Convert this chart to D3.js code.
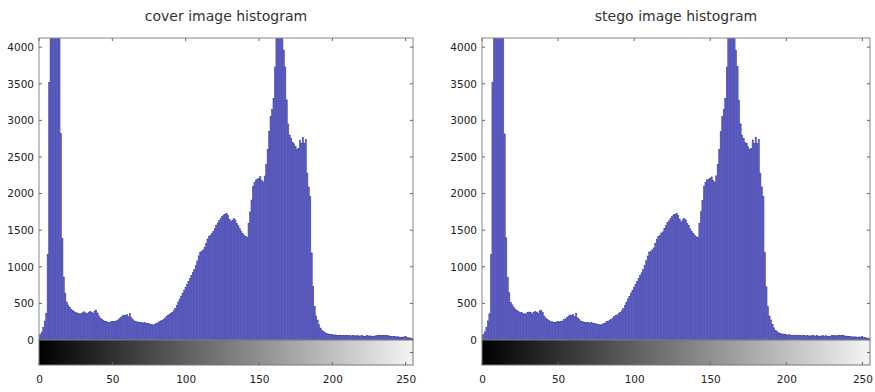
<!DOCTYPE html>
<html>
<head>
<meta charset="utf-8">
<script src="https://cdn.jsdelivr.net/npm/d3@7"></script>
<style>
  body { margin: 0; background: #fff; }
  text { font-family: "DejaVu Sans", sans-serif; fill: #222; }
</style>
</head>
<body>
<div id="chart"></div>
<script>
// gray levels 0..255
const levels = d3.range(256);

const titles = ['cover image histogram', 'stego image histogram'];
const yTicks = [0, 500, 1000, 1500, 2000, 2500, 3000, 3500, 4000];
const xTicks = [0, 50, 100, 150, 200, 250];

// pixel counts per gray level
const coverCounts = [
  60, 80, 110, 170, 260, 360, 1170, 3520, 4300, 5200, 6100, 6400, 5900, 5100, 4600, 2820,
  1390, 860, 640, 520, 478, 450, 420, 405, 390, 375, 370, 362, 355, 360, 372, 385,
  370, 360, 375, 388, 380, 365, 395, 410, 370, 330, 300, 285, 270, 255, 250, 245,
  240, 248, 252, 250, 255, 262, 275, 290, 310, 330, 340, 335, 345, 320, 365, 305,
  280, 262, 250, 248, 240, 245, 238, 232, 240, 230, 225, 222, 215, 210, 205, 212,
  225, 232, 248, 260, 270, 280, 300, 320, 335, 345, 362, 380, 400, 430, 470, 520,
  560, 600, 640, 680, 720, 760, 800, 840, 880, 920, 960, 1020, 1080, 1150, 1200, 1210,
  1230, 1260, 1320, 1380, 1410, 1430, 1460, 1480, 1520, 1570, 1600, 1630, 1660, 1690, 1708, 1720,
  1730, 1700, 1650, 1616, 1640, 1662, 1640, 1594, 1560, 1520, 1480, 1457, 1430, 1411, 1400, 1594,
  1750, 1912, 2100, 2150, 2186, 2200, 2209, 2230, 2180, 2160, 2240, 2400, 2600, 2850, 3050, 3150,
  3300, 3730, 4600, 5300, 5600, 5100, 4400, 3960, 3730, 3280, 2950, 2800, 2750, 2700, 2680, 2640,
  2600, 2620, 2730, 2690, 2770, 2690, 2740, 2280, 2090, 1960, 1190, 728, 455, 330, 273, 210,
  164, 135, 114, 100, 91, 85, 80, 76, 72, 68, 70, 66, 64, 68, 62, 60,
  65, 63, 58, 62, 60, 57, 63, 58, 55, 60, 57, 54, 58, 56, 52, 55,
  58, 53, 56, 54, 50, 55, 57, 60, 62, 58, 64, 66, 60, 62, 58, 55,
  52, 48, 50, 45, 42, 44, 40, 38, 40, 42, 45, 35, 30, 28, 25, 20
];

const stegoCounts = [
  62, 78, 112, 168, 262, 358, 1165, 3515, 4310, 5190, 6110, 6390, 5910, 5090, 4610, 2815,
  1395, 855, 645, 515, 480, 448, 422, 402, 392, 373, 372, 360, 357, 358, 374, 383,
  372, 358, 377, 386, 382, 363, 397, 408, 372, 328, 302, 283, 272, 253, 252, 243,
  242, 246, 254, 248, 257, 260, 277, 288, 312, 328, 342, 333, 347, 318, 367, 303,
  282, 260, 252, 246, 242, 243, 240, 230, 242, 228, 227, 220, 217, 208, 207, 210,
  227, 230, 250, 258, 272, 278, 302, 318, 337, 343, 364, 378, 402, 428, 472, 518,
  562, 598, 642, 678, 722, 758, 802, 838, 882, 918, 962, 1018, 1082, 1148, 1202, 1208,
  1232, 1258, 1322, 1378, 1412, 1428, 1462, 1478, 1522, 1568, 1602, 1628, 1662, 1688, 1710, 1718,
  1732, 1698, 1652, 1614, 1642, 1660, 1642, 1592, 1562, 1518, 1482, 1455, 1432, 1409, 1402, 1592,
  1752, 1910, 2102, 2148, 2188, 2198, 2211, 2228, 2182, 2158, 2242, 2398, 2602, 2848, 3052, 3148,
  3302, 3728, 4602, 5298, 5602, 5098, 4402, 3958, 3732, 3278, 2952, 2798, 2752, 2698, 2682, 2638,
  2602, 2618, 2732, 2688, 2772, 2688, 2742, 2278, 2092, 1958, 1192, 726, 457, 328, 275, 208,
  166, 133, 116, 98, 93, 83, 82, 74, 74, 66, 72, 64, 66, 66, 64, 58,
  67, 61, 60, 60, 62, 55, 65, 56, 57, 58, 59, 52, 60, 54, 54, 53,
  60, 51, 58, 52, 52, 53, 59, 58, 64, 56, 66, 64, 62, 60, 60, 53,
  54, 46, 52, 43, 44, 42, 42, 36, 42, 40, 47, 33, 32, 26, 27, 18
];

const W = 875, H = 392;
const svg = d3.select('#chart').append('svg')
  .attr('width', W)
  .attr('height', H);

const defs = svg.append('defs');
const grad = defs.append('linearGradient').attr('id', 'gray');
grad.append('stop').attr('offset', '0%').attr('stop-color', '#000');
grad.append('stop').attr('offset', '100%').attr('stop-color', '#f4f4f4');

function drawPanel(idx, left, right, counts) {
  const top = 38, base = 340, barBottom = 365;

  const x = d3.scaleLinear().domain([0, 255]).range([left, right]);
  const y = d3.scaleLinear().domain([0, 4125]).range([base, top]);
  const bw = x(1) - x(0);

  const g = svg.append('g');

  defs.append('clipPath').attr('id', 'clip' + idx)
    .append('rect')
    .attr('x', left).attr('y', top)
    .attr('width', right - left).attr('height', base - top);

  // bars
  g.append('g')
    .attr('clip-path', `url(#clip${idx})`)
    .selectAll('rect')
    .data(levels)
    .join('rect')
    .attr('x', d => x(d) - bw / 2)
    .attr('y', d => y(counts[d]))
    .attr('width', bw * 0.85)
    .attr('height', d => base - y(counts[d]))
    .attr('fill', '#6464cc')
    .attr('stroke', '#34349f')
    .attr('stroke-width', 0.45);

  // axes box
  g.append('rect')
    .attr('x', left).attr('y', top)
    .attr('width', right - left).attr('height', base - top)
    .attr('fill', 'none')
    .attr('stroke', '#8a8a8a')
    .attr('stroke-width', 1);

  const yAxis = d3.axisLeft(y).tickValues(yTicks).tickFormat(d3.format('d')).tickSize(0).tickPadding(5);
  g.append('g')
    .attr('transform', `translate(${left},0)`)
    .call(yAxis)
    .call(s => s.select('.domain').remove())
    .selectAll('text')
    .style('font-size', '10.5px')
    .style('fill', '#222');

  // inner tick marks left/right
  g.append('g').selectAll('line')
    .data(yTicks)
    .join('line')
    .attr('x1', left).attr('x2', left + 3)
    .attr('y1', d => y(d)).attr('y2', d => y(d))
    .attr('stroke', '#666');
  g.append('g').selectAll('line')
    .data(yTicks)
    .join('line')
    .attr('x1', right - 3).attr('x2', right)
    .attr('y1', d => y(d)).attr('y2', d => y(d))
    .attr('stroke', '#666');

  // top tick marks
  g.append('g').selectAll('line')
    .data(xTicks)
    .join('line')
    .attr('x1', d => x(d)).attr('x2', d => x(d))
    .attr('y1', top).attr('y2', top + 3)
    .attr('stroke', '#666');

  // gray level bar under the histogram
  g.append('rect')
    .attr('x', left).attr('y', base)
    .attr('width', right - left).attr('height', barBottom - base)
    .attr('fill', 'url(#gray)')
    .attr('stroke', '#777')
    .attr('stroke-width', 1);

  g.append('line')
    .attr('x1', right - 3).attr('x2', right)
    .attr('y1', (base + barBottom) / 2).attr('y2', (base + barBottom) / 2)
    .attr('stroke', '#666');

  const xAxis = d3.axisBottom(x).tickValues(xTicks).tickSize(0).tickPadding(11);
  g.append('g')
    .attr('transform', `translate(0,${barBottom})`)
    .call(xAxis)
    .call(s => s.select('.domain').remove())
    .selectAll('text')
    .style('font-size', '10.5px')
    .style('fill', '#222');

  g.append('g').selectAll('line')
    .data(xTicks)
    .join('line')
    .attr('x1', d => x(d)).attr('x2', d => x(d))
    .attr('y1', barBottom - 3).attr('y2', barBottom)
    .attr('stroke', '#666');

  g.append('text')
    .attr('x', (left + right) / 2)
    .attr('y', 21)
    .attr('text-anchor', 'middle')
    .style('font-size', '14px')
    .style('fill', '#333')
    .text(titles[idx]);
}

drawPanel(0, 39, 413, coverCounts);
drawPanel(1, 482, 870, stegoCounts);
</script>
</body>
</html>
